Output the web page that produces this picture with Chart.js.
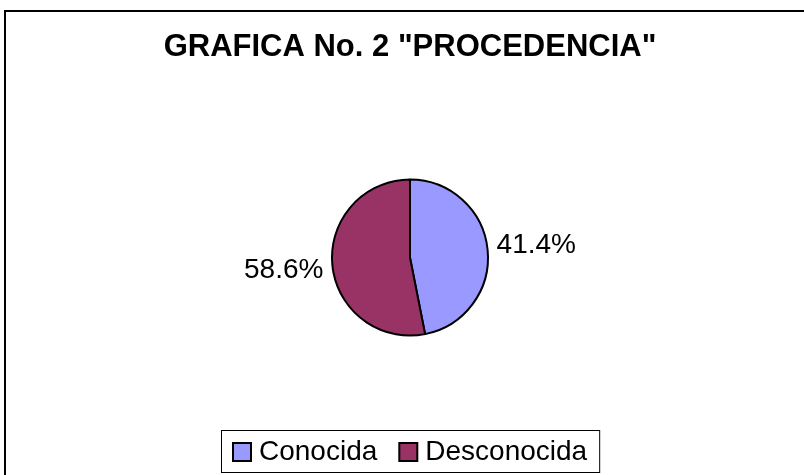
<!DOCTYPE html>
<html lang="es">
<head>
    <meta charset="utf-8" />
    <title>Procedencia</title>
    <style>
        html, body { margin: 0; padding: 0; background: #fff; }
        #wrap { width: 804px; height: 475px; }
    </style>
</head>
<body>
    <div id="wrap"><canvas id="procedenciaChart" width="804" height="475"></canvas></div>

    <script src="https://cdn.jsdelivr.net/npm/chart.js"></script>
    <script>
        const categories = ['Conocida', 'Desconocida'];
        // tamaño de los sectores tal como aparecen dibujados
        const sectores = [46.9, 53.1];
        // porcentajes escritos en las etiquetas
        const etiquetasPct = [41.4, 58.6];
        const colores = ['#9999FF', '#993366'];

        const FONT = '"Liberation Sans", Arial, sans-serif';

        // marco exterior (solo se ven los lados superior e izquierdo)
        const marco = {
            id: 'marco',
            beforeDraw(chart) {
                const ctx = chart.ctx;
                ctx.save();
                ctx.strokeStyle = '#000';
                ctx.lineWidth = 2;
                ctx.beginPath();
                ctx.moveTo(5, 480);
                ctx.lineTo(5, 11);
                ctx.lineTo(810, 11);
                ctx.stroke();
                ctx.restore();
            }
        };

        // etiquetas de porcentaje fuera del pastel
        const etiquetas = {
            id: 'etiquetas',
            afterDatasetsDraw(chart) {
                const ctx = chart.ctx;
                const meta = chart.getDatasetMeta(0);
                ctx.save();
                ctx.font = '28px ' + FONT;
                ctx.fillStyle = '#000';
                ctx.textBaseline = 'middle';
                meta.data.forEach((arc, i) => {
                    const mid = (arc.startAngle + arc.endAngle) / 2;
                    const r = arc.outerRadius + 9;
                    const x = arc.x + r * Math.cos(mid);
                    const y = arc.y + r * Math.sin(mid) * 1.45;
                    ctx.textAlign = Math.cos(mid) >= 0 ? 'left' : 'right';
                    ctx.fillText(etiquetasPct[i].toFixed(1) + '%', x, y);
                });
                ctx.restore();
            }
        };

        // leyenda con recuadro
        const leyenda = {
            id: 'leyenda',
            afterDraw(chart) {
                const ctx = chart.ctx;
                const ds = chart.data.datasets[0];
                ctx.save();
                ctx.font = '28px ' + FONT;
                const sw = 18, gapTxt = 8, gapItem = 22, pad = 12;
                const widths = chart.data.labels.map(l => ctx.measureText(l).width);
                let total = pad * 2;
                widths.forEach((w, i) => { total += sw + gapTxt + w + (i > 0 ? gapItem : 0); });
                const cx = 410.5, top = 430, h = 42;
                let x = Math.round(cx - total / 2);
                ctx.strokeStyle = '#000';
                ctx.lineWidth = 1;
                ctx.strokeRect(x + 0.5, top + 0.5, total, h);
                const yc = top + h / 2 + 1;
                x += pad;
                chart.data.labels.forEach((l, i) => {
                    ctx.fillStyle = ds.backgroundColor[i];
                    ctx.fillRect(x, yc - sw / 2, sw, sw);
                    ctx.lineWidth = 2;
                    ctx.strokeRect(x, yc - sw / 2, sw, sw);
                    ctx.fillStyle = '#000';
                    ctx.textAlign = 'left';
                    ctx.textBaseline = 'middle';
                    ctx.fillText(l, x + sw + gapTxt, yc);
                    x += sw + gapTxt + widths[i] + gapItem;
                });
                ctx.restore();
            }
        };

        new Chart(document.getElementById('procedenciaChart').getContext('2d'), {
            type: 'pie',
            data: {
                labels: categories,
                datasets: [{
                    data: sectores,
                    backgroundColor: colores,
                    borderColor: '#000',
                    borderWidth: 2
                }]
            },
            options: {
                responsive: false,
                animation: false,
                radius: 78,
                layout: { padding: { left: 16, right: 0, top: 0, bottom: 26 } },
                plugins: {
                    legend: { display: false },
                    tooltip: { enabled: false },
                    title: {
                        display: true,
                        text: 'GRAFICA No. 2 "PROCEDENCIA"',
                        color: '#000',
                        font: { family: FONT, size: 31, weight: 'bold', lineHeight: 1.2 },
                        padding: { top: 29, bottom: 0 }
                    }
                }
            },
            plugins: [marco, etiquetas, leyenda]
        });
    </script>
</body>
</html>
